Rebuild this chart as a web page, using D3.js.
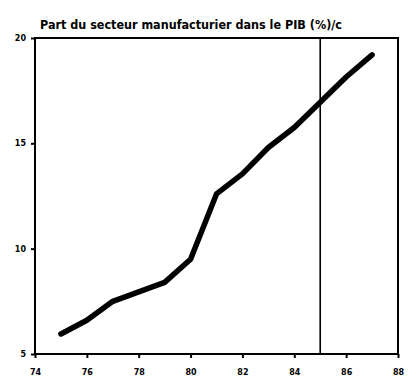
<!DOCTYPE html>
<html><head><meta charset="utf-8">
<script src="https://cdn.jsdelivr.net/npm/d3@7"></script>
<style>body{margin:0;background:#fff}svg{display:block}</style>
</head><body>
<svg id="c" width="416" height="389"></svg>
<script>
const title = "Part du secteur manufacturier dans le PIB (%)/c";
const years = [75, 76, 77, 78, 79, 80, 81, 82, 83, 84, 85, 86, 87];
const values = [5.95, 6.6, 7.5, 7.95, 8.4, 9.5, 12.6, 13.55, 14.8, 15.75, 16.95, 18.15, 19.2];
const xTicks = [74, 76, 78, 80, 82, 84, 86, 88];
const yTicks = [5, 10, 15, 20];
const markerYear = 85;

const svg = d3.select("#c");
const m = {l: 35, r: 398, t: 38, b: 354};
const x = d3.scaleLinear().domain([74, 88]).range([m.l, m.r]);
const y = d3.scaleLinear().domain([5, 20]).range([m.b, m.t]);

svg.append("text").attr("x", 40).attr("y", 29)
  .attr("font-family", "DejaVu Sans Condensed, DejaVu Sans").attr("font-weight", "bold")
  .attr("font-size", 12).attr("textLength", 302).attr("lengthAdjust", "spacingAndGlyphs")
  .text(title);

const xa = svg.append("g").attr("transform", `translate(0,${m.b})`)
  .call(d3.axisBottom(x).tickValues(xTicks).tickSize(4).tickPadding(11));
const ya = svg.append("g").attr("transform", `translate(${m.l},0)`)
  .call(d3.axisLeft(y).tickValues(yTicks).tickSize(4).tickPadding(5));
[xa, ya].forEach(g => {
  g.select(".domain").remove();
  g.selectAll("line").attr("stroke", "#000").attr("stroke-width", 2);
  g.selectAll("text").attr("font-family", "DejaVu Sans").attr("font-weight", "bold")
    .attr("font-size", 8).attr("fill", "#000");
});

svg.append("rect").attr("x", m.l).attr("y", m.t)
  .attr("width", m.r - m.l).attr("height", m.b - m.t)
  .attr("fill", "none").attr("stroke", "#000").attr("stroke-width", 2);

svg.append("line").attr("x1", x(markerYear)).attr("x2", x(markerYear))
  .attr("y1", m.t).attr("y2", m.b).attr("stroke", "#000").attr("stroke-width", 1.6);

const line = d3.line().x((d, i) => x(years[i])).y(d => y(d));
svg.append("path").datum(values).attr("d", line).attr("fill", "none")
  .attr("stroke", "#000").attr("stroke-width", 5.5)
  .attr("stroke-linecap", "round").attr("stroke-linejoin", "round");
</script>
</body></html>
